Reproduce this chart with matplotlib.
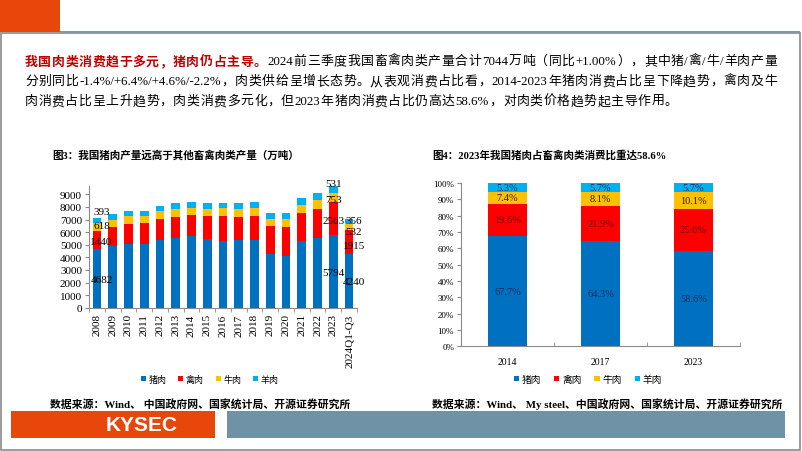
import re
import numpy as np
import matplotlib
matplotlib.use("Agg")
import matplotlib.pyplot as plt
from matplotlib.patches import Rectangle, Patch

# ---- data ----
years = ['2008', '2009', '2010', '2011', '2012', '2013', '2014', '2015', '2016',
         '2017', '2018', '2019', '2020', '2021', '2022', '2023', '2024Q1-Q3']
pork = [4682, 4891, 5071, 5060, 5343, 5493, 5671, 5487, 5299, 5340, 5404, 4255, 4113, 5296, 5541, 5794, 4240]
poultry = [1440, 1500, 1560, 1660, 1730, 1720, 1700, 1760, 1980, 1880, 1900, 2200, 2290, 2240, 2320, 2563, 1915]
beef = [618, 600, 630, 560, 580, 630, 580, 580, 610, 620, 580, 610, 610, 630, 690, 753, 532]
mutton = [393, 420, 400, 420, 430, 440, 460, 460, 460, 470, 490, 488, 492, 514, 525, 531, 356]
label_idx = [0, 15, 16]

share_years = ['2014', '2017', '2023']
share_pork = [67.7, 64.3, 58.6]
share_poultry = [19.6, 21.9, 25.6]
share_beef = [7.4, 8.1, 10.1]
share_mutton = [5.3, 5.7, 5.7]

meat_names = ['猪肉', '禽肉', '牛肉', '羊肉']
colors = ['#0070C0', '#FF0000', '#FFC000', '#00B0F0']

SERIF = ['Liberation Serif', 'Noto Sans CJK SC']
CJK = ['Noto Sans CJK SC', 'DejaVu Sans']

W, H = 802, 452
fig = plt.figure(figsize=(W / 100, H / 100), dpi=100)
fig.patch.set_facecolor('white')


def fx(x):
    return x / W


def fy(y):
    return 1 - y / H


def box(x0, y0, x1, y1):
    return [fx(x0), fy(y1), fx(x1) - fx(x0), fy(y0) - fy(y1)]


# ---- page frame ----
fig.patches.append(Rectangle((fx(1), fy(451)), fx(799), fy(34) - fy(451), transform=fig.transFigure,
                             fill=False, edgecolor='#8a8a8a', linewidth=1.2))
fig.patches.append(Rectangle((fx(60), fy(34)), fx(740), fy(32) - fy(34), transform=fig.transFigure,
                             facecolor='#8198aa', edgecolor='none'))
fig.patches.append(Rectangle((0, fy(33)), fx(60), fy(0) - fy(33), transform=fig.transFigure,
                             facecolor='#E8470C', edgecolor='none'))
fig.patches.append(Rectangle((fx(11), fy(439)), fx(204), fy(412) - fy(439), transform=fig.transFigure,
                             facecolor='#E8470C', edgecolor='none'))
fig.patches.append(Rectangle((fx(227), fy(439)), fx(558), fy(412) - fy(439), transform=fig.transFigure,
                             facecolor='#6F92A6', edgecolor='none'))
fig.text(fx(142), fy(426), 'KYSEC', color='white', fontsize=15, weight='bold',
         family=['Liberation Sans'], ha='center', va='center')

# ---- paragraph (justified between x=25 and x=777) ----
fig.canvas.draw()
rend = fig.canvas.get_renderer()
fs_par = 9.3
red_head = '我国肉类消费趋于多元，猪肉仍占主导。'
lines = [
    red_head + '2024前三季度我国畜禽肉类产量合计7044万吨（同比+1.00%），其中猪/禽/牛/羊肉产量',
    '分别同比-1.4%/+6.4%/+4.6%/-2.2%，肉类供给呈增长态势。从表观消费占比看，2014-2023年猪肉消费占比呈下降趋势，禽肉及牛',
    '肉消费占比呈上升趋势，肉类消费多元化，但2023年猪肉消费占比仍高达58.6%，对肉类价格趋势起主导作用。',
]
line_y = [62, 82, 102]
for li, (line, yy) in enumerate(zip(lines, line_y)):
    toks = re.findall(r'[A-Za-z0-9.%+\-/]+|.', line)
    objs = []
    nchar = 0
    for t in toks:
        is_red = li == 0 and nchar < len(red_head)
        nchar += len(t)
        o = fig.text(0, fy(yy), t, fontsize=fs_par, va='center',
                     family=CJK if is_red else SERIF,
                     color='#C00000' if is_red else 'black',
                     weight='bold' if is_red else 'normal')
        objs.append(o)
    widths = [o.get_window_extent(renderer=rend).width for o in objs]
    if li < 2:
        gap = (777 - 25 - sum(widths)) / (len(objs) - 1)
    else:
        gap = (777 - 25 - sum(widths)) / (len(objs) - 1)
        gap = min(gap, 0.6)
    xpos = 25
    for o, w in zip(objs, widths):
        o.set_x(fx(xpos))
        xpos += w + gap

# ---- titles and sources ----
fig.text(fx(52), fy(155), '图3：我国猪肉产量远高于其他畜禽肉类产量（万吨）', fontsize=7.6,
         weight='bold', family=SERIF, va='center')
fig.text(fx(432), fy(155), '图4：2023年我国猪肉占畜禽肉类消费比重达58.6%', fontsize=7.6,
         weight='bold', family=SERIF, va='center')
fig.text(fx(50), fy(404), '数据来源：Wind、 中国政府网、国家统计局、开源证券研究所', fontsize=7.8,
         weight='bold', family=SERIF, va='center')
fig.text(fx(432), fy(404), '数据来源：Wind、 My steel、中国政府网、国家统计局、开源证券研究所', fontsize=7.8,
         weight='bold', family=SERIF, va='center')

# ---- left chart: production ----
ax1 = fig.add_axes(box(89, 186.5, 357, 308.7))
x = np.arange(len(years))
series = [pork, poultry, beef, mutton]
# label nudges (data units) for the labelled bars: 2008, 2023, 2024Q1-Q3
label_dy = {0: [-120, -110, 80, 680], 15: [-90, -130, -160, 450], 16: [-60, -280, -360, 30]}
label_dx = {0: 0.3, 15: 0.0, 16: 0.3}
bottom = np.zeros(len(years))
for si, (vals, c) in enumerate(zip(series, colors)):
    ax1.bar(x, vals, bottom=bottom, width=0.55, color=c, linewidth=0)
    for i in label_idx:
        yy = bottom[i] + vals[i] / 2 + label_dy[i][si]
        ax1.text(x[i] + label_dx[i], yy, str(vals[i]), ha='center', va='center',
                 fontsize=8, family=SERIF)
    bottom += np.array(vals)

ax1.set_xlim(-0.5, len(years) - 0.5)
ax1.set_ylim(0, 9700)
ax1.set_yticks(range(0, 10000, 1000))
ax1.set_yticklabels([str(v) for v in range(0, 10000, 1000)], family=SERIF, fontsize=8)
ax1.set_xticks(x)
ax1.set_xticklabels(years, rotation=90, family=SERIF, fontsize=8)
ax1.set_xticks(np.arange(-0.5, len(years), 1), minor=True)
ax1.tick_params(axis='x', which='major', length=0, pad=4)
ax1.tick_params(axis='x', which='minor', length=3, color='#8a8a8a', direction='out')
ax1.tick_params(axis='y', length=3, color='#8a8a8a', direction='out', pad=2)
for s in ['top', 'right']:
    ax1.spines[s].set_visible(False)
for s in ['left', 'bottom']:
    ax1.spines[s].set_color('#8a8a8a')
    ax1.spines[s].set_linewidth(0.8)

handles = [Patch(facecolor=c, edgecolor='none') for c in colors]
fig.legend(handles, meat_names, loc='center', bbox_to_anchor=(fx(210), fy(380)), ncol=4,
           frameon=False, prop={'family': CJK, 'size': 6.5}, handlelength=0.55, handleheight=0.55,
           handletextpad=0.3, columnspacing=1.3)

# ---- right chart: consumption share ----
ax2 = fig.add_axes(box(461, 184, 740, 347.3))
x2 = np.arange(len(share_years))
shares = [share_pork, share_poultry, share_beef, share_mutton]
text_colors = ['#1b2f5a', '#6b0000', '#222222', '#1b2f5a']
bottom = np.zeros(len(share_years))
for vals, c, tc in zip(shares, colors, text_colors):
    vals = np.array(vals) / 100
    ax2.bar(x2, vals, bottom=bottom, width=0.41, color=c, linewidth=0)
    for i in range(len(share_years)):
        ax2.text(x2[i], bottom[i] + vals[i] / 2, f'{vals[i] * 100:.1f}%', ha='center', va='center',
                 fontsize=7.5, family=SERIF, color=tc)
    bottom += vals

ax2.set_xlim(-0.5, len(share_years) - 0.5)
ax2.set_ylim(0, 1)
ax2.set_yticks(np.arange(0, 1.01, 0.1))
ax2.set_yticklabels([f'{int(round(v * 100))}%' for v in np.arange(0, 1.01, 0.1)], family=SERIF, fontsize=6.5)
ax2.set_xticks(x2)
ax2.set_xticklabels(share_years, family=SERIF, fontsize=7)
ax2.set_xticks(np.arange(-0.5, len(share_years), 1), minor=True)
ax2.tick_params(axis='x', which='major', length=0, pad=8)
ax2.tick_params(axis='x', which='minor', length=3, color='#8a8a8a', direction='in')
ax2.tick_params(axis='y', length=3, color='#8a8a8a', direction='out', pad=2)
for s in ['top', 'right']:
    ax2.spines[s].set_visible(False)
for s in ['left', 'bottom']:
    ax2.spines[s].set_color('#8a8a8a')
    ax2.spines[s].set_linewidth(0.8)

fig.legend(handles, meat_names, loc='center', bbox_to_anchor=(fx(588), fy(380)), ncol=4,
           frameon=False, prop={'family': CJK, 'size': 7}, handlelength=0.55, handleheight=0.55,
           handletextpad=0.3, columnspacing=1.3)

fig.savefig('out.png', dpi=100)
